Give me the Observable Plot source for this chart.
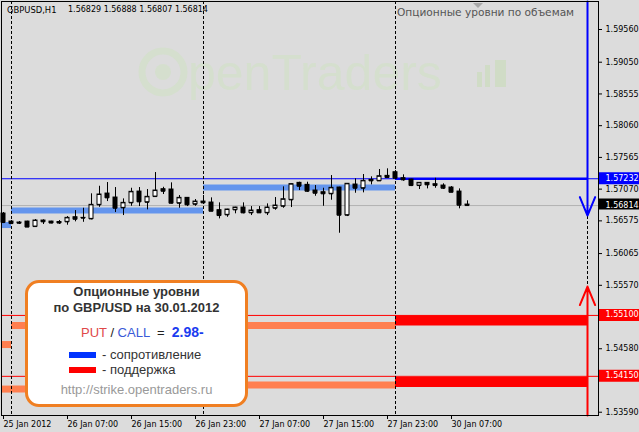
<!DOCTYPE html>
<html><head><meta charset="utf-8">
<script src="https://cdn.jsdelivr.net/npm/d3@7"></script>
<script src="https://cdn.jsdelivr.net/npm/@observablehq/plot@0.6"></script>
<style>
html,body{margin:0;padding:0;background:#dcdcdc;}
#wrap{position:relative;width:639px;height:432px;overflow:hidden;}
#wm,#chart{position:absolute;left:0;top:0;}
.ov{position:absolute;white-space:pre;}
#hdr1{left:7px;top:4px;font:8.4px "DejaVu Sans";line-height:12px;color:#000;}
#hdr2{left:68px;top:4px;font:8px "DejaVu Sans";line-height:12px;color:#000;}
#title{left:397px;top:5px;font:10.6px "DejaVu Sans";line-height:14px;color:#555;}
#tri{left:473px;top:3px;width:0;height:0;border-left:5px solid transparent;border-right:5px solid transparent;border-top:5px solid #a8a8a8;}
#legend{position:absolute;left:25px;top:280px;width:223px;height:127px;box-sizing:border-box;border:3px solid #F07F22;border-radius:14px;background:#fff;font-family:"Liberation Sans",Arial,sans-serif;}
#legend div{position:absolute;white-space:pre;line-height:16px;}
.c{left:0;width:100%;text-align:center;}
</style></head><body>
<div id="wrap">
<svg id="wm" width="639" height="432">
  <circle cx="163" cy="72" r="21" fill="none" stroke="#d5dfce" stroke-width="7"></circle>
  <circle cx="163" cy="72" r="8" fill="#d5dfce"></circle>
  <text x="188" y="90" font-family="Liberation Sans" font-size="50" fill="#d5dfce">penTraders</text>
  <rect x="477" y="72" width="5" height="15" fill="#d0dcc6"></rect>
  <rect x="485" y="65" width="5" height="22" fill="#d0dcc6"></rect>
  <rect x="495" y="60" width="11" height="27" fill="#d0dcc6"></rect>
</svg>
<div id="chart"></div>
<div class="ov" id="hdr1">GBPUSD,H1</div>
<div class="ov" id="hdr2">1.56829 1.56888 1.56807 1.56814</div>
<div class="ov" id="title">Опционные уровни по объемам</div>
<div class="ov" id="tri"></div>
<div id="legend">
  <div class="c" style="top:1px;font-weight:bold;font-size:13px;color:#333;">Опционные уровни</div>
  <div class="c" style="top:17px;font-weight:bold;font-size:13px;color:#333;">по GBP/USD на 30.01.2012</div>
  <div style="left:53px;top:41px;font-size:13px;"><span style="color:#e04848">PUT</span><span style="color:#222"> / </span><span style="color:#3a5ad8">CALL</span><span style="color:#222">  =  </span><span style="color:#1a3cf0;font-weight:bold;font-size:14px;">2.98-</span></div>
  <div style="left:41px;top:69px;width:27px;height:6px;background:#0033ff;"></div>
  <div style="left:74px;top:64px;font-size:13px;color:#333;">- сопротивление</div>
  <div style="left:41px;top:84px;width:27px;height:6px;background:#ff0000;"></div>
  <div style="left:74px;top:79px;font-size:13px;color:#333;">- поддержка</div>
  <div class="c" style="top:99px;font-size:13px;color:#999;">http://strike.opentraders.ru</div>
</div>
</div>
<script>
// ---- data ----
const tickBars = [0, 8, 16, 24, 32, 40, 48, 56];
const barLabels = ["25 Jan 2012","26 Jan 07:00","26 Jan 15:00","26 Jan 23:00","27 Jan 07:00","27 Jan 15:00","27 Jan 23:00","30 Jan 07:00"];
const priceTicks = [1.59560,1.59050,1.58555,1.58060,1.57565,1.57070,1.56575,1.56065,1.55570,1.54580,1.53590];
const opens = [1.56689,1.56564,1.56549,1.56564,1.56486,1.56580,1.56564,1.56557,1.56560,1.56631,
1.56622,1.56606,1.56825,1.57001,1.56939,1.56778,1.56856,1.57032,1.56865,1.56954,
1.57068,1.57064,1.56850,1.56934,1.56834,1.56876,1.56861,1.56741,1.56669,1.56747,
1.56783,1.56700,1.56741,1.56700,1.56772,1.56803,1.56903,1.57168,1.57137,1.57048,
1.57021,1.56997,1.57095,1.56663,1.57142,1.57084,1.57215,1.57199,1.57277,1.57333,
1.57240,1.57220,1.57126,1.57168,1.57146,1.57126,1.57095,1.57032,1.56829];
const highs = [1.56705,1.56580,1.56564,1.56569,1.56596,1.56591,1.56569,1.56580,1.56642,1.56736,
1.56772,1.56997,1.57115,1.57173,1.57095,1.56918,1.57084,1.57095,1.57064,1.57329,
1.57099,1.57168,1.56970,1.56939,1.56908,1.56970,1.56934,1.56856,1.56756,1.56787,
1.56856,1.56798,1.56798,1.56840,1.56939,1.57106,1.57153,1.57178,1.57178,1.57126,
1.57084,1.57282,1.57100,1.57158,1.57231,1.57298,1.57262,1.57376,1.57387,1.57360,
1.57293,1.57224,1.57172,1.57173,1.57240,1.57153,1.57110,1.57074,1.56888];
const lows = [1.56533,1.56518,1.56518,1.56471,1.56478,1.56518,1.56529,1.56518,1.56507,1.56560,
1.56553,1.56591,1.56787,1.56876,1.56705,1.56658,1.56803,1.56798,1.56747,1.56943,
1.56986,1.56840,1.56772,1.56798,1.56803,1.56840,1.56720,1.56606,1.56631,1.56685,
1.56685,1.56658,1.56695,1.56658,1.56741,1.56772,1.56783,1.57048,1.57021,1.56959,
1.56803,1.56897,1.56382,1.56642,1.57006,1.57012,1.57137,1.57193,1.57246,1.57235,
1.57193,1.57110,1.57064,1.57074,1.57084,1.57064,1.57016,1.56763,1.56807];
const closes = [1.56549,1.56533,1.56538,1.56478,1.56580,1.56560,1.56541,1.56541,1.56622,1.56600,
1.56619,1.56825,1.56986,1.56934,1.56772,1.56856,1.57028,1.56872,1.56950,1.57048,
1.57037,1.56850,1.56934,1.56825,1.56876,1.56856,1.56725,1.56658,1.56752,1.56783,
1.56700,1.56736,1.56700,1.56783,1.56814,1.56912,1.57148,1.57115,1.57037,1.57006,
1.56997,1.57090,1.56663,1.57153,1.57084,1.57199,1.57199,1.57271,1.57251,1.57240,
1.57215,1.57126,1.57168,1.57137,1.57126,1.57084,1.57021,1.56819,1.56814];
const daySeparators = [1, 25, 49, 73];
const dayStart = [-0.25, 1, 25, 49];
const dayEnd = [1, 25, 49, 73];
const resistanceLevels = [1.56510, 1.56736, 1.57095, 1.57232];
const supportUpper = [1.54646, 1.54942, 1.54942, 1.55020];
const supportLower = [1.53951, 1.53951, 1.54014, 1.54061];
const resistanceLine = 1.57232;
const supportLines = [1.55100, 1.54150];
const bid = 1.56814;
const arrowDownTip = 1.56658;
const arrowUpTip = 1.55550;

// ---- build ----
const X_DOMAIN = [-0.25, 74.375];
const Y_DOMAIN = [1.53539, 1.59997];
const candles = opens.map((o, i) => ({i, o, h: highs[i], l: lows[i], c: closes[i]}));
const bulls = candles.filter(d => d.c > d.o);
const bears = candles.filter(d => d.c <= d.o);
const days = dayStart.map((s, k) => ({s, e: dayEnd[k], r: resistanceLevels[k], s1: supportUpper[k], s2: supportLower[k]}));
const past = days.slice(0, 3), today = days.slice(3);
const arrowBar = daySeparators[3];
const fmt = d3.format(".5f");
const boxX1 = X_DOMAIN[1] + 0.125, boxX2 = X_DOMAIN[1] + 6;
const hw = 0.25;

const chart = Plot.plot({
  width: 639, height: 432,
  marginLeft: 1, marginRight: 41, marginTop: 1, marginBottom: 17,
  x: {domain: X_DOMAIN},
  y: {domain: Y_DOMAIN},
  style: {background: "transparent", fontFamily: "DejaVu Sans", fontSize: "8px", color: "black", overflow: "visible"},
  marks: [
    Plot.ruleY([bid], {y: d => d, stroke: "#b2b2b2"}),
    Plot.ruleY(past, {y: "r", x1: "s", x2: "e", stroke: "#6495ED", strokeWidth: 6}),
    Plot.ruleY(past, {y: "s1", x1: "s", x2: "e", stroke: "#FF7F50", strokeWidth: 7}),
    Plot.ruleY(past, {y: "s2", x1: "s", x2: "e", stroke: "#FF7F50", strokeWidth: 7}),
    Plot.ruleY(today, {y: "s1", x1: "s", x2: "e", stroke: "#FF0000", strokeWidth: 10}),
    Plot.ruleY(today, {y: "s2", x1: "s", x2: "e", stroke: "#FF0000", strokeWidth: 10}),
    Plot.ruleY(today, {y: "r", x1: "s", x2: "e", stroke: "#0000FF", strokeWidth: 2.5}),
    Plot.ruleY([resistanceLine], {y: d => d, stroke: "#0000FF"}),
    Plot.ruleY(supportLines, {y: d => d, stroke: "#FF0000"}),
    Plot.ruleX(daySeparators, {x: d => d, stroke: "black", strokeDasharray: "3,2"}),
    Plot.ruleX(candles, {x: "i", y1: "l", y2: "h", stroke: "black"}),
    Plot.rect(bulls, {x1: d => d.i - hw, x2: d => d.i + hw, y1: "o", y2: "c", fill: "white", stroke: "black"}),
    Plot.rect(bears, {x1: d => d.i - hw, x2: d => d.i + hw, y1: "o", y2: "c", fill: "black", stroke: "black"}),
    Plot.ruleY(candles, {x1: d => d.i - hw, x2: d => d.i + hw, y: "c", stroke: "black"}),
    Plot.ruleY(candles, {x1: d => d.i - hw, x2: d => d.i + hw, y: "o", stroke: "black"}),
    Plot.arrow([{b: arrowBar, from: Y_DOMAIN[1], to: arrowDownTip}], {x1: "b", x2: "b", y1: "from", y2: "to", stroke: "#0000FF", strokeWidth: 2, headLength: 15, headAngle: 45}),
    Plot.arrow([{b: arrowBar, from: Y_DOMAIN[0], to: arrowUpTip}], {x1: "b", x2: "b", y1: "from", y2: "to", stroke: "#FF0000", strokeWidth: 2, headLength: 15, headAngle: 45}),
    Plot.frame({stroke: "black"}),
    Plot.axisY({anchor: "right", ticks: priceTicks, tickFormat: fmt, tickSize: 3, tickPadding: 4}),
    Plot.axisX({ticks: tickBars, tickFormat: d => barLabels[tickBars.indexOf(d)], textAnchor: "start", tickSize: 4, tickPadding: 2}),
    Plot.ruleY([resistanceLine], {y: d => d, x1: () => boxX1, x2: () => boxX2, stroke: "#0000FF", strokeWidth: 12, dy: -0.5}),
    Plot.ruleY([bid], {y: d => d, x1: () => boxX1, x2: () => boxX2, stroke: "black", strokeWidth: 11, dy: -1.5}),
    Plot.ruleY(supportLines, {y: d => d, x1: () => boxX1, x2: () => boxX2, stroke: "#FF0000", strokeWidth: 12, dy: -0.5}),
    Plot.text([resistanceLine, bid, ...supportLines], {x: () => boxX1, y: d => d, text: d => fmt(d), dx: 6, dy: -0.5, textAnchor: "start", fill: "white"})
  ]
});
document.getElementById("chart").appendChild(chart);
</script>
</body></html>
